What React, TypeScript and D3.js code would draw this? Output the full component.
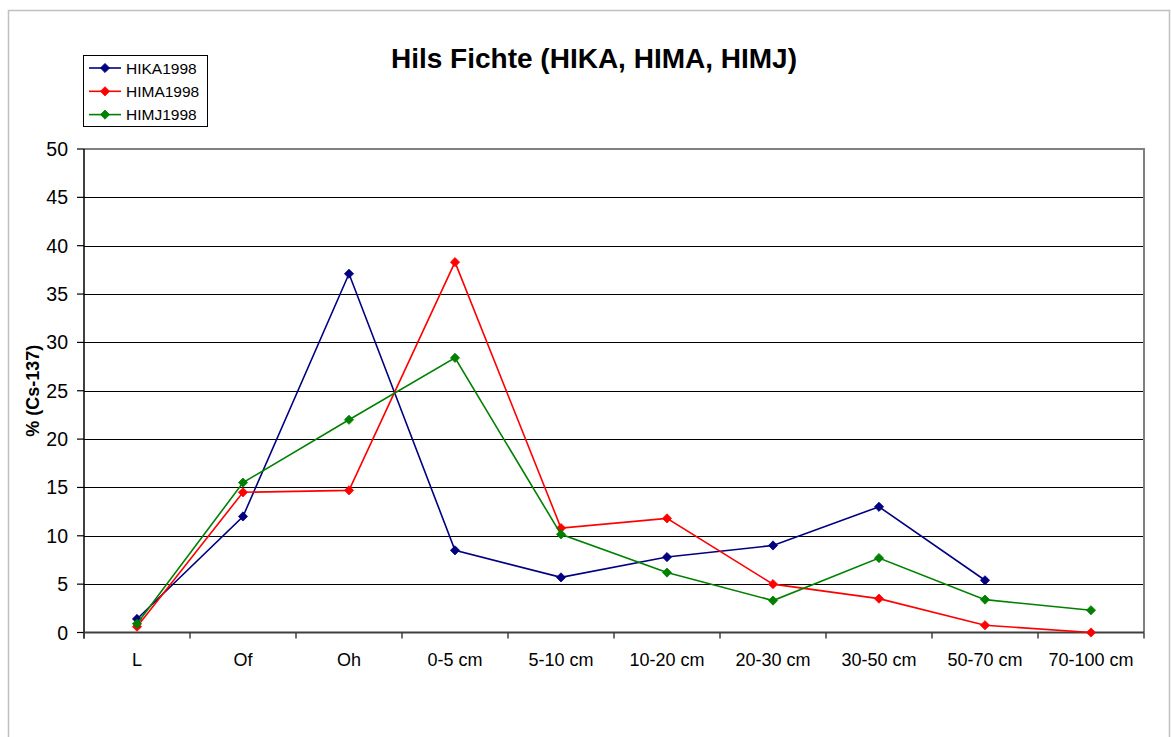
import * as d3 from 'd3';
import { useEffect, useRef } from 'react';

const categories = ['L', 'Of', 'Oh', '0-5 cm', '5-10 cm', '10-20 cm', '20-30 cm', '30-50 cm', '50-70 cm', '70-100 cm'];
const hika = [1.4, 12.0, 37.1, 8.5, 5.7, 7.8, 9.0, 13.0, 5.4, null];
const hima = [0.6, 14.5, 14.7, 38.3, 10.8, 11.8, 5.0, 3.5, 0.75, 0];
const himj = [0.9, 15.5, 22.0, 28.4, 10.15, 6.2, 3.3, 7.7, 3.4, 2.3];
const seriesNames = ['HIKA1998', 'HIMA1998', 'HIMJ1998'];
const seriesColors = ['#000080', '#ff0000', '#008000'];
const yTicks = [0, 5, 10, 15, 20, 25, 30, 35, 40, 45, 50];

const FONT = '"Liberation Sans", Arial, sans-serif';
const diamond = 'M0,-4.6L4.6,0L0,4.6L-4.6,0Z';

export default function App() {
  const ref = useRef<SVGSVGElement | null>(null);
  useEffect(() => {
    if (!ref.current) return;
    const svg = d3.select(ref.current);
    svg.selectAll('*').remove();
    const width = 1171;
    const height = 737;
    const plot = { left: 84, right: 1144, top: 149, bottom: 632.5 };

    svg.append('rect').attr('width', width).attr('height', height).attr('fill', '#fff');
    // outer chart border
    svg
      .append('rect')
      .attr('x', 8.5)
      .attr('y', 10.5)
      .attr('width', 1161)
      .attr('height', 760)
      .attr('fill', 'none')
      .attr('stroke', '#c0c0c0')
      .attr('stroke-width', 1.5);

    const x = d3.scaleBand<string>().domain(categories).range([plot.left, plot.right]);
    const y = d3.scaleLinear().domain([0, 50]).range([plot.bottom, plot.top]);
    const cx = (c: string) => (x(c) || 0) + x.bandwidth() / 2;

    // gridlines
    svg
      .append('g')
      .selectAll('line')
      .data(yTicks.filter((t) => t > 0 && t < 50))
      .enter()
      .append('line')
      .attr('x1', plot.left)
      .attr('x2', plot.right)
      .attr('y1', (d) => Math.round(y(d)) + 0.5)
      .attr('y2', (d) => Math.round(y(d)) + 0.5)
      .attr('stroke', '#000')
      .attr('stroke-width', 1);

    // plot area border (top/right)
    svg
      .append('path')
      .attr('d', `M${plot.left},${plot.top}H${plot.right}V${plot.bottom}`)
      .attr('fill', 'none')
      .attr('stroke', '#808080')
      .attr('stroke-width', 2);

    // y axis
    const yAxis = svg.append('g').attr('transform', `translate(${plot.left},0)`);
    yAxis.append('line').attr('y1', plot.top).attr('y2', plot.bottom + 6).attr('stroke', '#000').attr('stroke-width', 1.5);
    yAxis
      .selectAll('line.tick')
      .data(yTicks)
      .enter()
      .append('line')
      .attr('class', 'tick')
      .attr('x1', -7)
      .attr('x2', 0)
      .attr('y1', (d) => y(d))
      .attr('y2', (d) => y(d))
      .attr('stroke', '#000')
      .attr('stroke-width', 1.2);
    yAxis
      .selectAll('text')
      .data(yTicks)
      .enter()
      .append('text')
      .attr('x', -16)
      .attr('y', (d) => y(d))
      .attr('dy', '0.36em')
      .attr('text-anchor', 'end')
      .attr('font-family', FONT)
      .attr('font-size', 19.5)
      .attr('fill', '#000')
      .text((d) => d);

    // x axis
    const xAxis = svg.append('g');
    xAxis
      .append('line')
      .attr('x1', plot.left)
      .attr('x2', plot.right)
      .attr('y1', plot.bottom)
      .attr('y2', plot.bottom)
      .attr('stroke', '#404040')
      .attr('stroke-width', 2);
    const bounds = categories.map((c) => x(c) || 0).concat([plot.right]);
    xAxis
      .selectAll('line.tick')
      .data(bounds)
      .enter()
      .append('line')
      .attr('class', 'tick')
      .attr('x1', (d) => d)
      .attr('x2', (d) => d)
      .attr('y1', plot.bottom)
      .attr('y2', plot.bottom + 6)
      .attr('stroke', '#404040')
      .attr('stroke-width', 1.5);
    xAxis
      .selectAll('text')
      .data(categories)
      .enter()
      .append('text')
      .attr('x', (d) => cx(d))
      .attr('y', 665.5)
      .attr('text-anchor', 'middle')
      .attr('font-family', FONT)
      .attr('font-size', 18)
      .attr('fill', '#000')
      .text((d) => d);

    // y title
    svg
      .append('text')
      .attr('transform', `translate(39,${(plot.top + plot.bottom) / 2}) rotate(-90)`)
      .attr('text-anchor', 'middle')
      .attr('font-family', FONT)
      .attr('font-size', 18)
      .attr('font-weight', 'bold')
      .attr('fill', '#000')
      .text('% (Cs-137)');

    // title
    svg
      .append('text')
      .attr('x', 594)
      .attr('y', 68)
      .attr('text-anchor', 'middle')
      .attr('font-family', FONT)
      .attr('font-size', 28)
      .attr('font-weight', 'bold')
      .attr('fill', '#000')
      .text('Hils Fichte (HIKA, HIMA, HIMJ)');

    // series
    const allSeries = [hika, hima, himj];
    allSeries.forEach((vals, i) => {
      const pts = categories
        .map((c, j) => ({ c, v: vals[j] }))
        .filter((p) => p.v !== null && p.v !== undefined) as { c: string; v: number }[];
      const line = d3
        .line<{ c: string; v: number }>()
        .x((p) => cx(p.c))
        .y((p) => y(p.v));
      const g = svg.append('g');
      g.append('path')
        .attr('d', line(pts) || '')
        .attr('fill', 'none')
        .attr('stroke', seriesColors[i])
        .attr('stroke-width', 1.6);
      g.selectAll('path.m')
        .data(pts)
        .enter()
        .append('path')
        .attr('class', 'm')
        .attr('d', diamond)
        .attr('transform', (p) => `translate(${cx(p.c)},${y(p.v)})`)
        .attr('fill', seriesColors[i])
        .attr('stroke', seriesColors[i])
        .attr('stroke-width', 0.8);
    });

    // legend
    const leg = svg.append('g');
    leg
      .append('rect')
      .attr('x', 83.5)
      .attr('y', 55.5)
      .attr('width', 124)
      .attr('height', 71)
      .attr('fill', '#fff')
      .attr('stroke', '#000')
      .attr('stroke-width', 1);
    seriesNames.forEach((name, i) => {
      const ly = 68 + i * 23.3;
      leg.append('line').attr('x1', 89).attr('x2', 121).attr('y1', ly).attr('y2', ly).attr('stroke', seriesColors[i]).attr('stroke-width', 1.6);
      leg
        .append('path')
        .attr('d', diamond)
        .attr('transform', `translate(105,${ly})`)
        .attr('fill', seriesColors[i])
        .attr('stroke', seriesColors[i])
        .attr('stroke-width', 0.8);
      leg
        .append('text')
        .attr('x', 126)
        .attr('y', ly)
        .attr('dy', '0.36em')
        .attr('font-family', FONT)
        .attr('font-size', 15.5)
        .attr('fill', '#000')
        .text(name);
    });
  }, []);

  return (
    <svg
      ref={ref}
      width={1171}
      height={737}
      style={{ position: 'fixed', left: 0, top: 0, display: 'block' }}
    />
  );
}
